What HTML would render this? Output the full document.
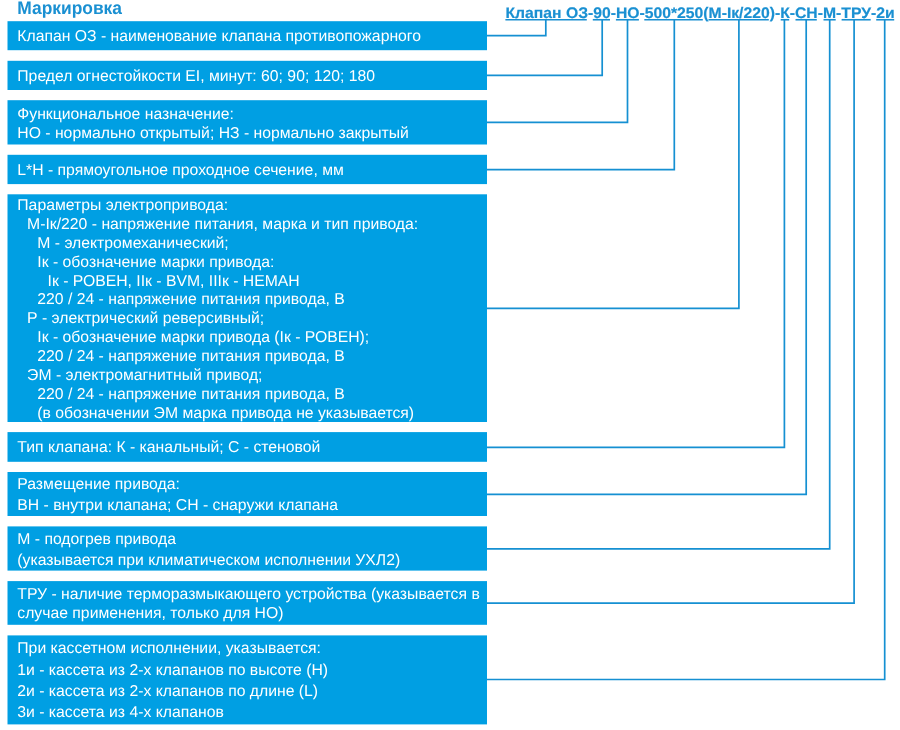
<!DOCTYPE html>
<html lang="ru">
<head>
<meta charset="utf-8">
<title>Маркировка</title>
<style>
html,body{margin:0;padding:0;background:#fff;}
body{width:900px;height:730px;position:relative;overflow:hidden;font-family:"Liberation Sans",sans-serif;text-rendering:geometricPrecision;}
.t{position:absolute;white-space:pre;color:#fff;font-size:15.76px;line-height:20.0px;height:20.0px;transform-origin:0 15.461px;transform:scaleY(1.0);}
.h{position:absolute;white-space:pre;color:#1a90d2;font-weight:bold;line-height:20.0px;height:20.0px;}
svg{position:absolute;left:0;top:0;}
#txt{position:absolute;left:0;top:0;width:900px;height:730px;will-change:transform;}
</style>
</head>
<body>
<svg width="900" height="730" viewBox="0 0 900 730">
<rect x="7.50" y="21.20" width="479.50" height="29.00" fill="#009fe3"/>
<rect x="7.50" y="60.80" width="479.50" height="29.20" fill="#009fe3"/>
<rect x="7.50" y="100.20" width="479.50" height="44.30" fill="#009fe3"/>
<rect x="7.50" y="154.80" width="479.50" height="29.30" fill="#009fe3"/>
<rect x="7.50" y="194.30" width="479.50" height="227.70" fill="#009fe3"/>
<rect x="7.50" y="432.10" width="479.50" height="29.70" fill="#009fe3"/>
<rect x="7.50" y="472.00" width="479.50" height="44.00" fill="#009fe3"/>
<rect x="7.50" y="526.40" width="479.50" height="44.20" fill="#009fe3"/>
<rect x="7.50" y="581.10" width="479.50" height="43.70" fill="#009fe3"/>
<rect x="7.50" y="635.40" width="479.50" height="89.00" fill="#009fe3"/>
<g fill="none" stroke="#1590d2" stroke-width="1.7" stroke-linejoin="miter">
<path d="M487.00 35.60 H545.80 V19.75"/>
<path d="M487.00 75.30 H602.20 V19.75"/>
<path d="M487.00 122.40 H627.50 V19.75"/>
<path d="M487.00 169.70 H674.30 V19.75"/>
<path d="M487.00 308.30 H738.90 V19.75"/>
<path d="M487.00 447.30 H784.40 V19.75"/>
<path d="M487.00 494.30 H806.20 V19.75"/>
<path d="M487.00 548.90 H829.70 V19.75"/>
<path d="M487.00 603.20 H854.10 V19.75"/>
<path d="M487.00 679.50 H884.70 V19.75"/>
</g>
<g stroke="#1a90d2" stroke-width="1.6">
<path d="M505.40 19.75 H586.80"/>
<path d="M592.80 19.75 H610.00"/>
<path d="M615.90 19.75 H638.90"/>
<path d="M644.30 19.75 H702.80"/>
<path d="M708.50 19.75 H768.80"/>
<path d="M780.70 19.75 H789.20"/>
<path d="M795.50 19.75 H816.80"/>
<path d="M823.50 19.75 H835.70"/>
<path d="M841.60 19.75 H870.70"/>
<path d="M876.20 19.75 H894.20"/>
</g>
</svg>
<div id="txt">
<div class="h" style="left:17.30px;top:-2.13px;font-size:17.4px;transform-origin:0 16.029px;transform:scaleY(1.04)">Маркировка</div>
<div class="h" style="left:505.50px;top:4.05px;font-size:15.73px;-webkit-text-stroke:0.2px #1a90d2;transform-origin:0 15.450px;transform:scaleY(0.97)">Клапан ОЗ-90-НО-500*250(М-Iк/220)-К-СН-М-ТРУ-2и</div>
<div class="t" style="left:17.30px;top:27.14px">Клапан ОЗ - наименование клапана противопожарного</div>
<div class="t" style="left:17.30px;top:66.94px">Предел огнестойкости EI, минут: 60; 90; 120; 180</div>
<div class="t" style="left:17.30px;top:104.64px">Функциональное назначение:</div>
<div class="t" style="left:17.30px;top:123.74px">НО - нормально открытый; НЗ - нормально закрытый</div>
<div class="t" style="left:17.30px;top:160.74px">L*H - прямоугольное проходное сечение, мм</div>
<div class="t" style="left:17.30px;top:196.04px">Параметры электропривода:</div>
<div class="t" style="left:27.10px;top:215.04px">М-Iк/220 - напряжение питания, марка и тип привода:</div>
<div class="t" style="left:37.30px;top:233.94px">М - электромеханический;</div>
<div class="t" style="left:37.30px;top:252.84px">Iк - обозначение марки привода:</div>
<div class="t" style="left:47.50px;top:271.74px">Iк - РОВЕН, IIк - BVM, IIIк - НЕМАН</div>
<div class="t" style="left:37.30px;top:290.44px">220 / 24 - напряжение питания привода, В</div>
<div class="t" style="left:27.10px;top:309.24px">Р - электрический реверсивный;</div>
<div class="t" style="left:37.30px;top:328.04px">Iк - обозначение марки привода (Iк - РОВЕН);</div>
<div class="t" style="left:37.30px;top:346.94px">220 / 24 - напряжение питания привода, В</div>
<div class="t" style="left:27.10px;top:365.84px">ЭМ - электромагнитный привод;</div>
<div class="t" style="left:37.30px;top:384.74px">220 / 24 - напряжение питания привода, В</div>
<div class="t" style="left:37.30px;top:403.64px">(в обозначении ЭМ марка привода не указывается)</div>
<div class="t" style="left:17.30px;top:438.24px">Тип клапана: К - канальный; С - стеновой</div>
<div class="t" style="left:17.30px;top:475.24px">Размещение привода:</div>
<div class="t" style="left:17.30px;top:496.44px">ВН - внутри клапана; СН - снаружи клапана</div>
<div class="t" style="left:17.30px;top:529.64px">М - подогрев привода</div>
<div class="t" style="left:17.30px;top:551.24px">(указывается при климатическом исполнении УХЛ2)</div>
<div class="t" style="left:17.30px;top:585.44px">ТРУ - наличие терморазмыкающего устройства (указывается в</div>
<div class="t" style="left:17.30px;top:604.34px">случае применения, только для НО)</div>
<div class="t" style="left:17.30px;top:639.34px">При кассетном исполнении, указывается:</div>
<div class="t" style="left:17.30px;top:660.84px">1и - кассета из 2-х клапанов по высоте (H)</div>
<div class="t" style="left:17.30px;top:682.04px">2и - кассета из 2-х клапанов по длине (L)</div>
<div class="t" style="left:17.30px;top:703.34px">3и - кассета из 4-х клапанов</div>
</div>
</body>
</html>
